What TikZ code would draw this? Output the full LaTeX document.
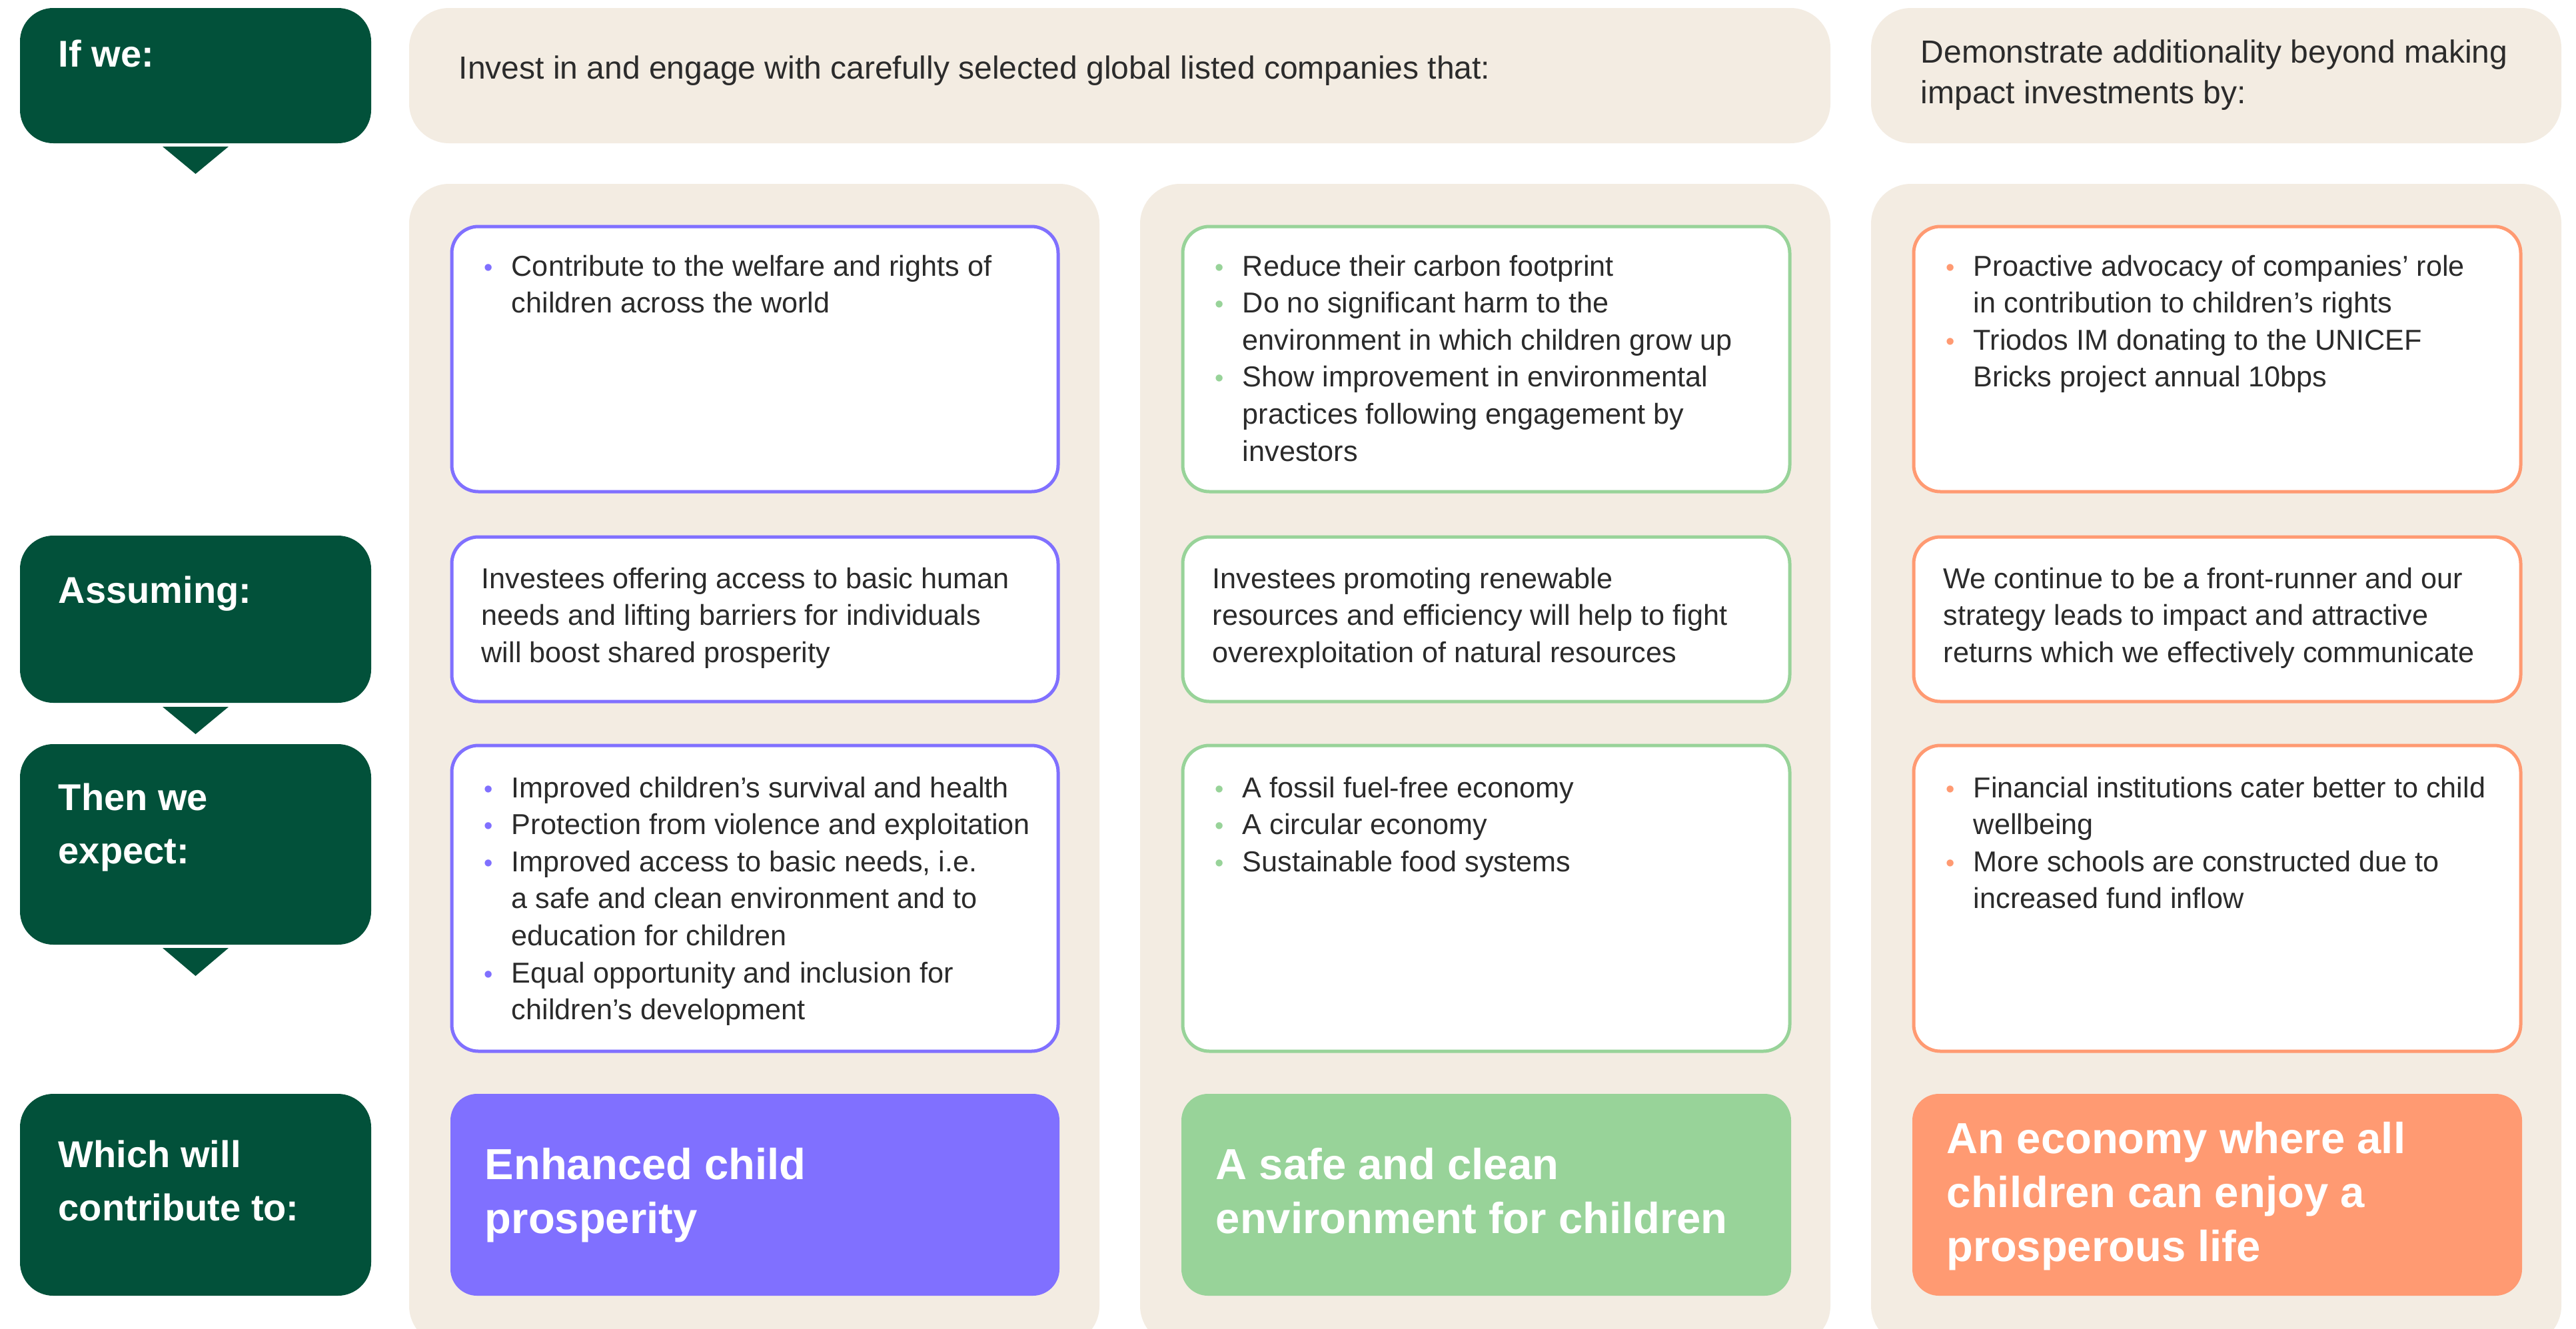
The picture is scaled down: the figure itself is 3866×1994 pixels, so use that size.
\documentclass[tikz,border=0pt]{standalone}
\usepackage{fontspec}
\setmainfont{Liberation Sans}
\definecolor{dkgreen}{HTML}{02513A}
\definecolor{beige}{HTML}{F3ECE2}
\definecolor{cpur}{HTML}{8070FF}
\definecolor{cgrn}{HTML}{98D399}
\definecolor{corg}{HTML}{FF9A72}
\definecolor{txt}{HTML}{2B2B2B}
\newcommand\bl[1]{\leavevmode\llap{\textcolor{#1}{\fontsize{9.5pt}{9.5pt}\selectfont\textbullet}\hspace{7pt}}}
\newcommand\lns[1]{\parbox[t]{320pt}{\raggedright #1}}
\begin{document}
\begin{tikzpicture}[x=0.25pt,y=-0.25pt,
  labbox/.style={fill=dkgreen,rounded corners=12.5pt},
  arrowtri/.style={fill=dkgreen},
  panel/.style={fill=beige,rounded corners=15pt},
  inbox/.style={fill=white,draw=#1,line width=1.25pt,rounded corners=10pt},
  fillbox/.style={fill=#1,rounded corners=10pt},
  labtxt/.style={anchor=base west,inner sep=0pt,text=white,font=\fontsize{14pt}{20pt}\selectfont\bfseries},
  hdrtxt/.style={anchor=base west,inner sep=0pt,text=txt,font=\fontsize{12pt}{15.25pt}\selectfont},
  bodytxt/.style={anchor=base west,inner sep=0pt,text=txt,font=\fontsize{10.8pt}{13.9pt}\selectfont},
  headtxt/.style={anchor=base west,inner sep=0pt,text=white,font=\fontsize{16.3pt}{20.25pt}\selectfont\bfseries}]
\useasboundingbox (0,0) rectangle (3866,1994);
\clip (0,0) rectangle (3866,1994);
\fill[white] (0,0) rectangle (3866,1994);

% left label boxes
\path[labbox] (30,12) rectangle (557,215);
\path[labbox] (30,804) rectangle (557,1055);
\path[labbox] (30,1117) rectangle (557,1418);
\path[labbox] (30,1642) rectangle (557,1945);
\path[arrowtri] (244,220) -- (343,220) -- (293.5,261) -- cycle;
\path[arrowtri] (244,1061) -- (343,1061) -- (293.5,1102) -- cycle;
\path[arrowtri] (244,1423) -- (343,1423) -- (293.5,1465) -- cycle;
\node[labtxt] (lifwe) at (87,100) {If we:};
\node[labtxt] (lassume) at (87,905) {Assuming:};
\node[labtxt] (lthen) at (87,1216) {\lns{Then we\\expect:}};
\node[labtxt] (lwhich) at (87,1752) {\lns{Which will\\contribute to:}};

% headers
\path[panel] (614,12) rectangle (2747,215);
\path[panel] (2808,12) rectangle (3844,215);
\node[hdrtxt] (hinvest) at (688,118) {Invest in and engage with carefully selected global listed companies that:};
\node[hdrtxt] (hdemo) at (2882,94) {\lns{Demonstrate additionality beyond making\\impact investments by:}};

% column panels
\path[panel] (614,276) rectangle (1650,2020);
\path[panel] (1711,276) rectangle (2747,2020);
\path[panel] (2808,276) rectangle (3844,2020);

% row 1
\path[inbox=cpur] (678,340) rectangle (1588,738);
\path[inbox=cgrn] (1775,340) rectangle (2686,738);
\path[inbox=corg] (2872,340) rectangle (3783,738);
\node[bodytxt] (a1) at (767,414) {\lns{\bl{cpur}Contribute to the welfare and rights of\\children across the world}};
\node[bodytxt] (b1) at (1864,414) {\lns{\bl{cgrn}Reduce their carbon footprint\\\bl{cgrn}Do no significant harm to the\\environment in which children grow up\\\bl{cgrn}Show improvement in environmental\\practices following engagement by\\investors}};
\node[bodytxt] (c1) at (2961,414) {\lns{\bl{corg}Proactive advocacy of companies’ role\\in contribution to children’s rights\\\bl{corg}Triodos IM donating to the UNICEF\\Bricks project annual 10bps}};

% row 2
\path[inbox=cpur] (678,806) rectangle (1588,1053);
\path[inbox=cgrn] (1775,806) rectangle (2686,1053);
\path[inbox=corg] (2872,806) rectangle (3783,1053);
\node[bodytxt] (a2) at (722,883) {\lns{Investees offering access to basic human\\needs and lifting barriers for individuals\\will boost shared prosperity}};
\node[bodytxt] (b2) at (1819,883) {\lns{Investees promoting renewable\\resources and efficiency will help to fight\\overexploitation of natural resources}};
\node[bodytxt] (c2) at (2916,883) {\lns{We continue to be a front-runner and our\\strategy leads to impact and attractive\\returns which we effectively communicate}};

% row 3
\path[inbox=cpur] (678,1119) rectangle (1588,1578);
\path[inbox=cgrn] (1775,1119) rectangle (2686,1578);
\path[inbox=corg] (2872,1119) rectangle (3783,1578);
\node[bodytxt] (a3) at (767,1197) {\lns{\bl{cpur}Improved children’s survival and health\\\bl{cpur}Protection from violence and exploitation\\\bl{cpur}Improved access to basic needs, i.e.\\a safe and clean environment and to\\education for children\\\bl{cpur}Equal opportunity and inclusion for\\children’s development}};
\node[bodytxt] (b3) at (1864,1197) {\lns{\bl{cgrn}A fossil fuel-free economy\\\bl{cgrn}A circular economy\\\bl{cgrn}Sustainable food systems}};
\node[bodytxt] (c3) at (2961,1197) {\lns{\bl{corg}Financial institutions cater better to child\\wellbeing\\\bl{corg}More schools are constructed due to\\increased fund inflow}};

% row 4
\path[fillbox=cpur] (676,1642) rectangle (1590,1945);
\path[fillbox=cgrn] (1773,1642) rectangle (2688,1945);
\path[fillbox=corg] (2870,1642) rectangle (3785,1945);
\node[headtxt] (a4) at (727,1770) {\lns{Enhanced child\\prosperity}};
\node[headtxt] (b4) at (1824,1770) {\lns{A safe and clean\\environment for children}};
\node[headtxt] (c4) at (2921,1731) {\lns{An economy where all\\children can enjoy a\\prosperous life}};
\end{tikzpicture}
\end{document}
